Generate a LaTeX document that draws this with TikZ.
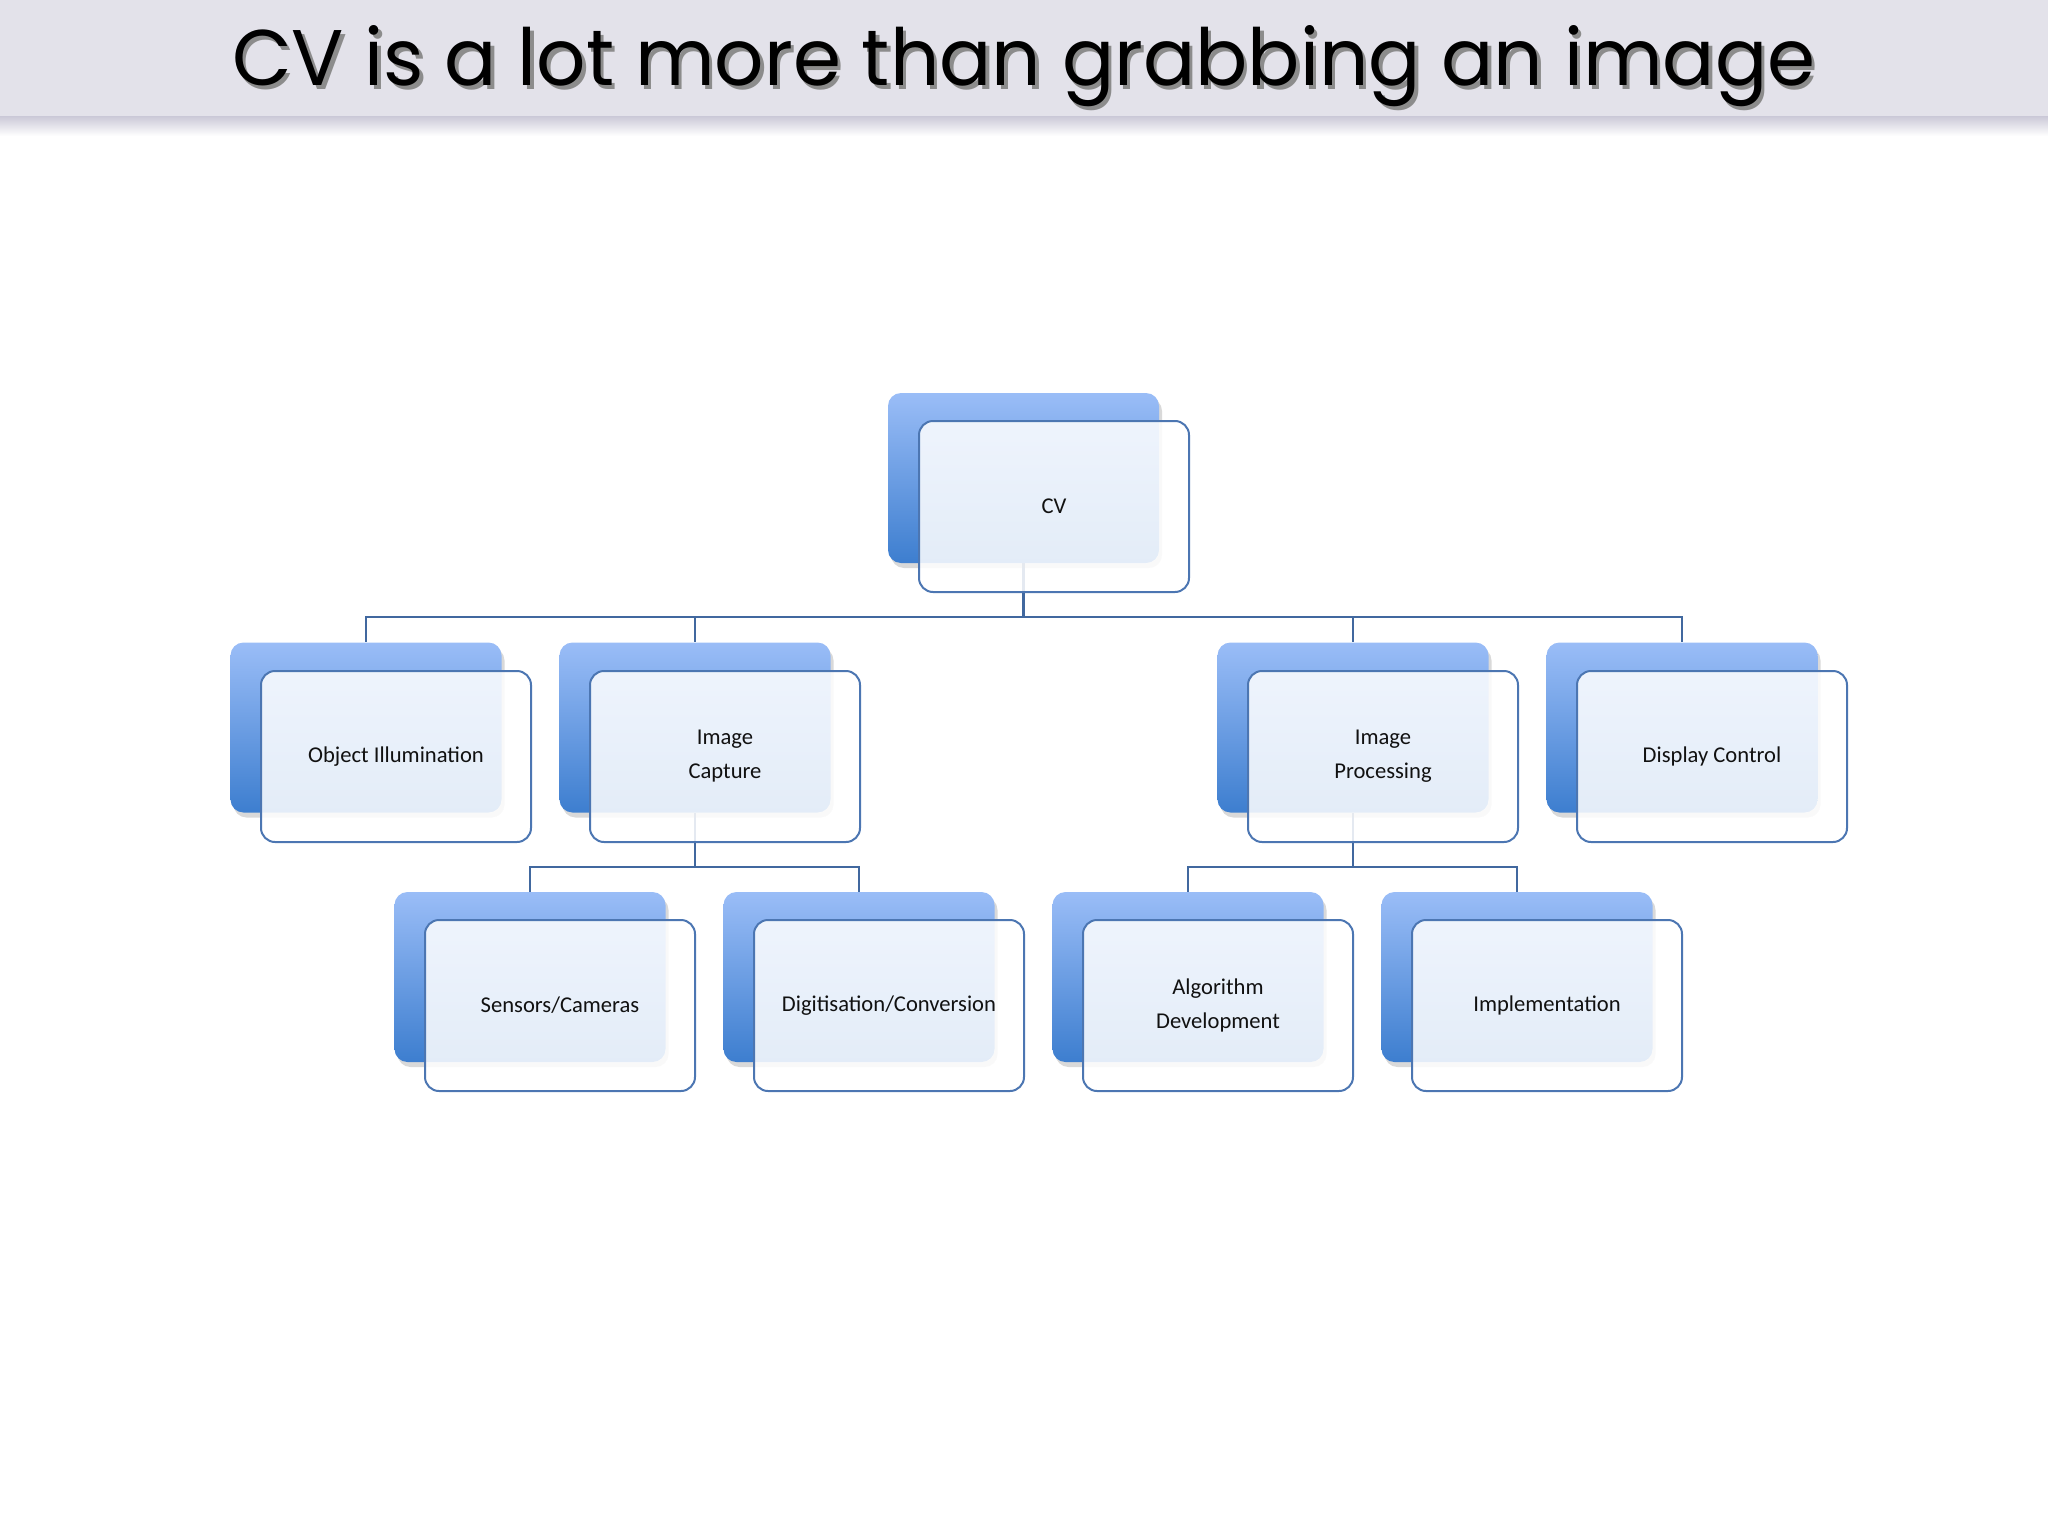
\documentclass[tikz,border=0pt]{standalone}
\usepackage{fontspec}
\setmainfont{Carlito}
\newfontfamily\titlefont{Poppins}
\usetikzlibrary{backgrounds,shadows}
\definecolor{band}{HTML}{E3E2EA}
\definecolor{bandshadow}{HTML}{CDCBD9}
\definecolor{backtop}{HTML}{9ABDF7}
\definecolor{backbot}{HTML}{3D7ECF}
\definecolor{frontline}{HTML}{4C76B2}
\definecolor{conncol}{HTML}{41689F}
\definecolor{labeltext}{HTML}{111111}
\tikzset{
  backbox/.style={rectangle, rounded corners=13pt, minimum width=271pt, minimum height=170pt, inner sep=0pt,
    top color=backtop, bottom color=backbot,
    drop shadow={shadow xshift=3pt, shadow yshift=-5pt, opacity=0.25, fill=black!60}},
  frontbox/.style={rectangle, rounded corners=14pt, minimum width=270pt, minimum height=171pt, inner sep=0pt,
    draw=frontline, line width=2pt, fill=white, fill opacity=0.86, text opacity=1, text=labeltext,
    align=center, font=\fontsize{22.6pt}{34pt}\selectfont},
  conn/.style={draw=conncol, line width=2.2pt}
}
\begin{document}
\begin{tikzpicture}[x=1pt,y=-1pt]
\useasboundingbox (0,0) rectangle (2048,1536);
% title band
\fill[band] (0,0) rectangle (2048,117);
\shade[top color=bandshadow, bottom color=white] (0,117) rectangle (2048,136);
\node[anchor=base west, inner sep=0pt, text=black!45] (titleshadow) at (235.5,89.5)
  {\resizebox{1583pt}{60pt}{\titlefont CV is a lot more than grabbing an image}};
\node[anchor=base west, inner sep=0pt, text=black] (title) at (232,86)
  {\resizebox{1583pt}{60pt}{\titlefont CV is a lot more than grabbing an image}};

% back boxes
\node[backbox] (bcv) at (1023.5,478) {};
\node[backbox] (boi) at (366,727.5) {};
\node[backbox] (bic) at (695,727.5) {};
\node[backbox] (bip) at (1353,727.5) {};
\node[backbox] (bdc) at (1682,727.5) {};
\node[backbox] (bsc) at (530,977) {};
\node[backbox] (bdg) at (859,977) {};
\node[backbox] (bad) at (1188,977) {};
\node[backbox] (bim) at (1517,977) {};

% front boxes
\node[frontbox] (cv) at (1054,506.5) {CV};
\node[frontbox] (oi) at (396,756.5) {Object Illumination};
\node[frontbox] (ic) at (725,756.5) {Image\\Capture};
\node[frontbox] (ip) at (1383,756.5) {Image\\Processing};
\node[frontbox] (dc) at (1712,756.5) {Display Control};
\node[frontbox] (sc) at (560,1005.5) {Sensors/Cameras};
\node[frontbox] (dg) at (889,1005.5) {Digitisation/Conversion};
\node[frontbox] (ad) at (1218,1005.5) {Algorithm\\Development};
\node[frontbox] (im) at (1547,1005.5) {Implementation};

% connectors
\begin{pgfonlayer}{background}
\draw[conn] (bcv.south) -- ++(0,54) -| (boi.north);
\draw[conn] (bcv.south) -- ++(0,54) -| (bic.north);
\draw[conn] (bcv.south) -- ++(0,54) -| (bip.north);
\draw[conn] (bcv.south) -- ++(0,54) -| (bdc.north);
\draw[conn] (bic.south) -- ++(0,54) -| (bsc.north);
\draw[conn] (bic.south) -- ++(0,54) -| (bdg.north);
\draw[conn] (bip.south) -- ++(0,54) -| (bad.north);
\draw[conn] (bip.south) -- ++(0,54) -| (bim.north);
\end{pgfonlayer}
\end{tikzpicture}
\end{document}
